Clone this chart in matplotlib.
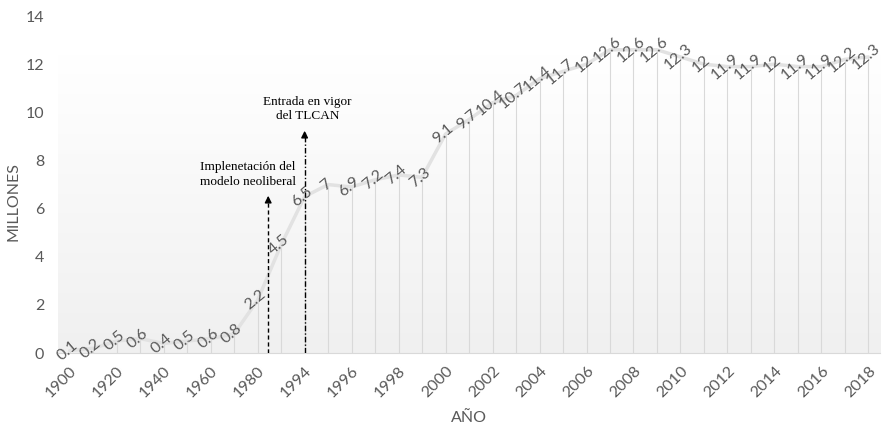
import matplotlib.pyplot as plt
import numpy as np
from matplotlib.colors import LinearSegmentedColormap

years = ['1900', '1910', '1920', '1930', '1940', '1950', '1960', '1970', '1980', '1990',
         '1994', '1995', '1996', '1997', '1998', '1999', '2000', '2001', '2002', '2003',
         '2004', '2005', '2006', '2007', '2008', '2009', '2010', '2011', '2012', '2013',
         '2014', '2015', '2016', '2017', '2018']
millones = [0.1, 0.2, 0.5, 0.6, 0.4, 0.5, 0.6, 0.8, 2.2, 4.5,
            6.5, 7, 6.9, 7.2, 7.4, 7.3, 9.1, 9.7, 10.4, 10.7,
            11.4, 11.7, 12, 12.6, 12.6, 12.6, 12.3, 12, 11.9, 11.9,
            12, 11.9, 11.9, 12.2, 12.3]

# event markers (category position, arrow top)
neolib_x, neolib_top = 8.45, 6.65
tlcan_x, tlcan_top = 10.0, 9.35

gray = '#595959'
plt.rcParams['font.family'] = ['Lato', 'DejaVu Sans']

fig = plt.figure(figsize=(8.85, 4.29), dpi=100)
ax = fig.add_axes([0.0655, 0.177, 0.929, 0.7856])

x = np.arange(len(years))

# gradient plot area
cmap = LinearSegmentedColormap.from_list('bg', ['#f0f0f0', '#ffffff'])
grad = np.linspace(0, 1, 256).reshape(-1, 1)
ax.imshow(grad, cmap=cmap, aspect='auto', origin='lower',
          extent=[-0.5, len(years) - 0.5, 0, 12.4], zorder=0)

ax.vlines(x, 0, millones, color='#d9d9d9', lw=0.8, zorder=1)
ax.plot(x, millones, color='#e2e2e2', lw=2.5, zorder=2, solid_capstyle='round')

for xi, v in zip(x, millones):
    ax.text(xi - 0.1, v, f'{v:g}', rotation=40, ha='center', va='center',
            fontsize=11.5, color=gray, zorder=4, rotation_mode='anchor')

# annotations
ax.plot([neolib_x, neolib_x], [0, neolib_top - 0.2], color='black', lw=1, ls=(0, (3, 2)), zorder=3)
ax.annotate('', xy=(neolib_x, neolib_top), xytext=(neolib_x, neolib_top - 0.4),
            arrowprops=dict(arrowstyle='-|>', color='black', lw=1, mutation_scale=10))
ax.plot([tlcan_x, tlcan_x], [0, tlcan_top - 0.2], color='black', lw=1, ls=(0, (4, 1.5, 1, 1.5)), zorder=3)
ax.annotate('', xy=(tlcan_x, tlcan_top), xytext=(tlcan_x, tlcan_top - 0.4),
            arrowprops=dict(arrowstyle='-|>', color='black', lw=1, mutation_scale=10))

ax.text(7.57, 7.42, 'Implenetación del\nmodelo neoliberal', ha='center', va='center',
        family='Liberation Serif', fontsize=9.5, linespacing=1.4)
ax.text(10.13, 10.13, 'Entrada en vigor\ndel TLCAN', ha='center', va='center',
        family='Liberation Serif', fontsize=9.5, linespacing=1.2)

ax.set_xlim(-0.5, len(years) - 0.5)
ax.set_ylim(0, 14)
ax.set_yticks(range(0, 15, 2))
ax.set_xticks(x[::2])
ax.set_xticklabels(years[::2], rotation=45, ha='right', rotation_mode='anchor')
ax.tick_params(axis='both', length=0, colors=gray, labelsize=11.5)
ax.tick_params(axis='y', pad=10)
ax.tick_params(axis='x', pad=8)

for s in ['top', 'right', 'left']:
    ax.spines[s].set_visible(False)
ax.spines['bottom'].set_color('#d9d9d9')

ax.set_xlabel('AÑO', color=gray, fontsize=11.5)
ax.set_ylabel('MILLONES', color=gray, fontsize=11.5)
ax.xaxis.set_label_coords(0.5, -0.172)
ax.yaxis.set_label_coords(-0.045, 0.45)

fig.savefig('out.png', dpi=100)
